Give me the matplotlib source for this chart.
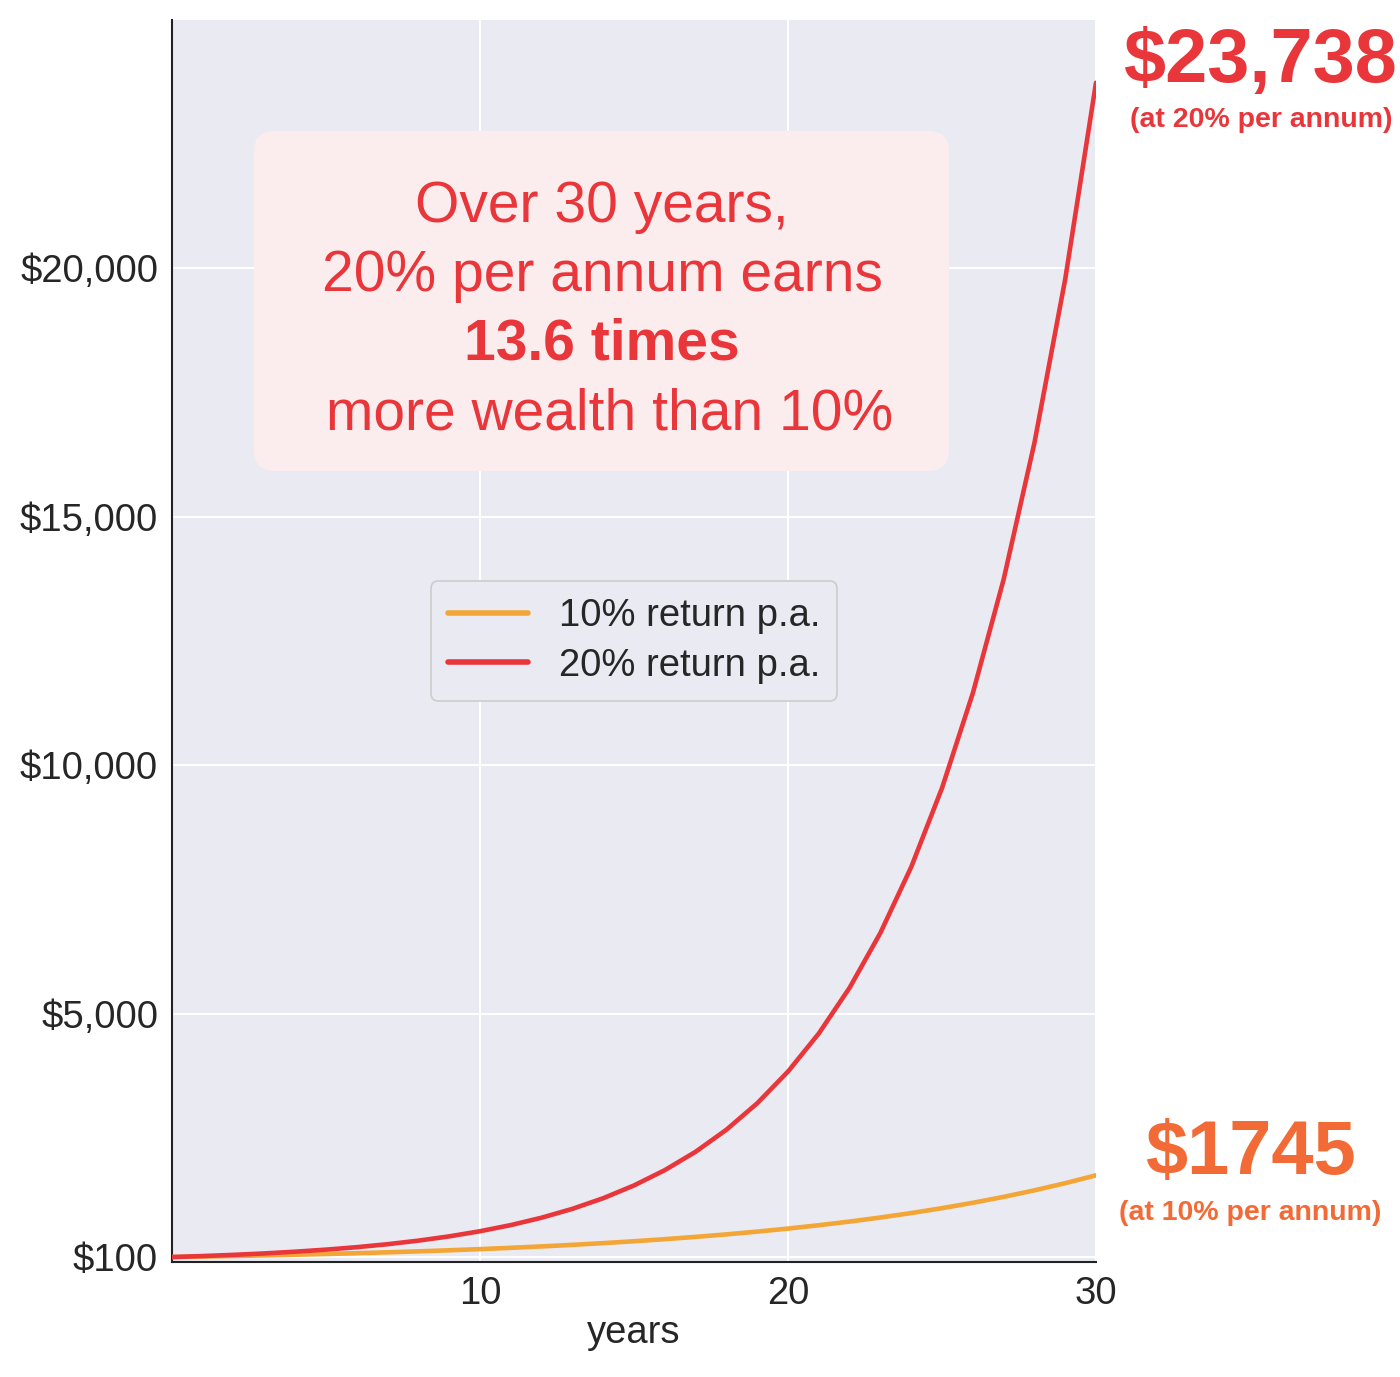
import matplotlib
matplotlib.use("Agg")
import matplotlib.pyplot as plt
from matplotlib.patches import FancyBboxPatch
from matplotlib.ticker import FixedLocator

plt.rcParams['font.family'] = ['Liberation Sans', 'DejaVu Sans']

years = list(range(0, 31))
growth_10 = [100, 110, 121, 133.1, 146.41, 161.05, 177.16, 194.87, 214.36, 235.79,
             259.37, 285.31, 313.84, 345.23, 379.75, 417.72, 459.50, 505.45, 555.99,
             611.59, 672.75, 740.02, 814.03, 895.43, 984.97, 1083.47, 1191.82, 1311.00,
             1442.10, 1586.31, 1744.94]
growth_20 = [100, 120, 144, 172.8, 207.36, 248.83, 298.60, 358.32, 429.98, 515.98,
             619.17, 743.01, 891.61, 1069.93, 1283.92, 1540.70, 1848.84, 2218.61, 2662.33,
             3194.80, 3833.76, 4600.51, 5520.61, 6624.74, 7949.68, 9539.62, 11447.55,
             13737.06, 16484.47, 19781.36, 23737.63]
series_labels = ["10% return p.a.", "20% return p.a."]
xticks = [10, 20, 30]
yticks = [100, 5000, 10000, 15000, 20000]
ytick_labels = ["$100", "$5,000", "$10,000", "$15,000", "$20,000"]

RED = "#E8363A"
ORANGE_LINE = "#F3A536"
ORANGE_TEXT = "#F26B36"
DARK = "#262626"

fig = plt.figure(figsize=(14, 13.77), dpi=100)
ax = fig.add_axes([172/1400, 1 - 1262/1377, 924/1400, 1242/1377])
ax.set_facecolor("#EAEAF2")

ax.plot(years, growth_10, color=ORANGE_LINE, lw=3.3, label=series_labels[0], zorder=3,
        solid_joinstyle='round', solid_capstyle='round')
ax.plot(years, growth_20, color=RED, lw=3.3, label=series_labels[1], zorder=3,
        solid_joinstyle='round', solid_capstyle='round')

ax.set_xlim(0, 30)
ax.set_ylim(0, 25000)
ax.xaxis.set_major_locator(FixedLocator(xticks))
ax.set_yticks(yticks)
ax.set_yticklabels(ytick_labels)
ax.tick_params(axis='both', length=0, labelsize=27.5, colors=DARK)
ax.tick_params(axis='x', pad=10)
ax.tick_params(axis='y', pad=10)
ax.grid(True, color="white", lw=1.5, zorder=0)
ax.set_axisbelow(True)
for s in ['top', 'right']:
    ax.spines[s].set_visible(False)
for s in ['left', 'bottom']:
    ax.spines[s].set_color("#222222")
    ax.spines[s].set_linewidth(1.5)
ax.set_xlabel("years", fontsize=27.5, color=DARK, labelpad=2)

leg = ax.legend(loc='center', fontsize=27.5, handlelength=2.1, handletextpad=0.8,
                labelspacing=0.35, borderpad=0.45, frameon=True, fancybox=True)
leg.get_frame().set_facecolor("#EAEAF2")
leg.get_frame().set_edgecolor("#CCCCCC")
leg.get_frame().set_linewidth(1.2)
leg.get_frame().set_alpha(1)
for t in leg.get_texts():
    t.set_color(DARK)
for l in leg.get_lines():
    l.set_linewidth(4)

# annotation box
def fx(px):
    return px / 1400
def fy(py):
    return 1 - py / 1377

box = FancyBboxPatch((fx(254) + 0.015, fy(471) + 0.015), fx(949 - 254) - 0.03, (471 - 131) / 1377 - 0.03,
                     boxstyle="round,pad=0.015,rounding_size=0.015",
                     transform=fig.transFigure, facecolor="#FBEDEE", edgecolor="none", zorder=4)
fig.patches.append(box)
box_lines = [("Over 30 years,", 'normal', 207),
             ("20% per annum earns", 'normal', 276),
             ("13.6 times", 'bold', 345),
             (" more wealth than 10%", 'normal', 414)]
for txt, w, py in box_lines:
    fig.text(fx(602), fy(py), txt, fontsize=41, fontweight=w, color=RED,
             ha='center', va='center', zorder=5)

fig.text(fx(1260), fy(62), "$23,738", fontsize=54.5, fontweight='bold', color=RED,
         ha='center', va='center')
fig.text(fx(1261), fy(120), "(at 20% per annum)", fontsize=20.5, fontweight='bold', color=RED,
         ha='center', va='center')
fig.text(fx(1250), fy(1155), "$1745", fontsize=54.5, fontweight='bold', color=ORANGE_TEXT,
         ha='center', va='center')
fig.text(fx(1250), fy(1213), "(at 10% per annum)", fontsize=20.5, fontweight='bold', color=ORANGE_TEXT,
         ha='center', va='center')

fig.savefig("out.png", dpi=100, facecolor="white")
